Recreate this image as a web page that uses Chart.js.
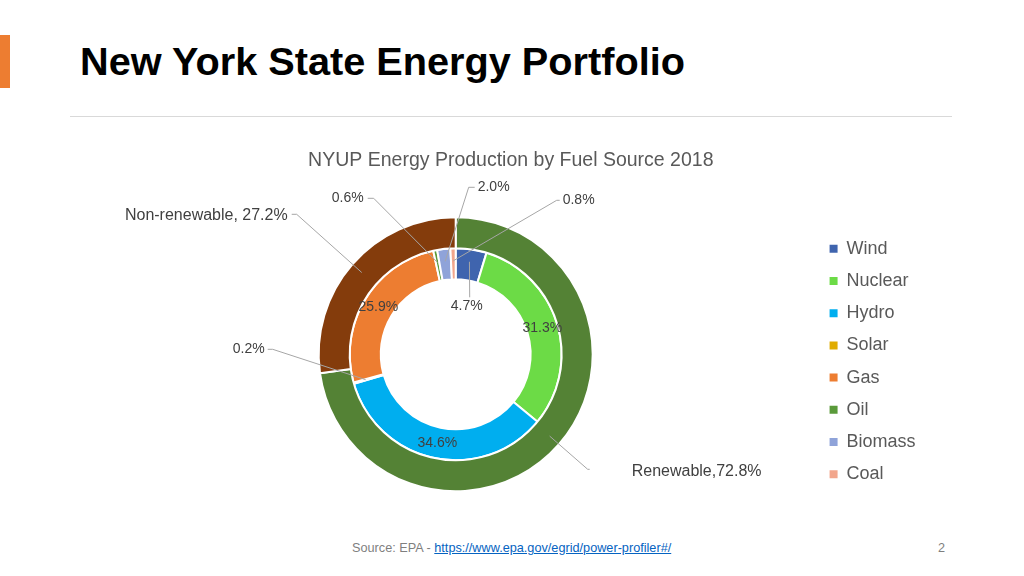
<!DOCTYPE html>
<html>
<head>
<meta charset="utf-8">
<title>New York State Energy Portfolio</title>
<script src="https://cdn.jsdelivr.net/npm/chart.js@4.4.0/dist/chart.umd.min.js"></script>
<style>
  body { margin:0; width:1024px; height:576px; background:#fff; position:relative; overflow:hidden;
         font-family:"Liberation Sans", Arial, sans-serif; }
  #bar { position:absolute; left:0; top:35px; width:10px; height:53px; background:#ED7D31; }
  #title { position:absolute; left:80px; top:42px; font-size:39.7px; line-height:1; font-weight:bold; color:#000; white-space:nowrap; }
  #rule { position:absolute; left:70px; top:116px; width:882px; height:1px; background:#D9D9D9; }
  #chartBox { position:absolute; left:96px; top:140px; width:840px; height:378px; }
  #source { position:absolute; left:352px; top:542px; font-size:12.7px; line-height:1; color:#7F7F7F; white-space:nowrap; }
  #source a { color:#0563C1; }
  #page { position:absolute; left:938px; top:542px; font-size:12.7px; line-height:1; color:#7F7F7F; }
</style>
</head>
<body>
<div id="bar"></div>
<div id="title">New York State Energy Portfolio</div>
<div id="rule"></div>
<div id="chartBox"><canvas id="myChart"></canvas></div>
<div id="source">Source: EPA - <a href="https://www.epa.gov/egrid/power-profiler#/">https://www.epa.gov/egrid/power-profiler#/</a></div>
<div id="page">2</div>

<script>
// inner ring
const fuels = ['Wind', 'Nuclear', 'Hydro', 'Solar', 'Gas', 'Oil', 'Biomass', 'Coal'];
const fuelShare = [4.7, 31.3, 34.6, 0.2, 25.9, 0.6, 2.0, 0.8];
// outer ring
const groups = ['Renewable', 'Non-renewable'];
const groupShare = [72.8, 27.2];

const fuelColors = ['#3F64AE', '#6CDB46', '#00AEEF', '#E0AC00', '#ED7D31', '#5A9A3A', '#8FA3D9', '#F2A68C'];
const groupColors = ['#548235', '#843C0C'];

// where each label sits, offsets from the doughnut centre (no dx = inside the slice)
const labelSpots = [
  {ds: 0, i: 0, sep: ',',  dx: 176,  dy: 117,  align: 'left',  size: 16, line: [[132, 115], [134, 115]]},
  {ds: 0, i: 1, sep: ', ', dx: -168, dy: -139, align: 'right', size: 16, line: [[-159, -140], [-164, -140]]},
  {ds: 1, i: 0, dx: 11,   dy: -48,  align: 'center', size: 14, line: [[14, -57]]},
  {ds: 1, i: 1, align: 'center', size: 14},
  {ds: 1, i: 2, align: 'center', size: 14},
  {ds: 1, i: 3, dx: -191, dy: -5,   align: 'right', size: 14, line: [[-183, -5], [-188, -5]]},
  {ds: 1, i: 4, align: 'center', size: 14},
  {ds: 1, i: 5, dx: -92,  dy: -156, align: 'right', size: 14, line: [[-82, -156], [-88, -156]]},
  {ds: 1, i: 6, dx: 22,   dy: -167, align: 'left',  size: 14, line: [[13, -167], [19, -167]]},
  {ds: 1, i: 7, dx: 107,  dy: -154, align: 'left',  size: 14, line: [[101, -154], [104, -154]]}
];

const FONT = '"Liberation Sans", Arial, sans-serif';
Chart.defaults.font.family = FONT;

const valueLabels = {
  id: 'valueLabels',
  afterDatasetsDraw(chart) {
    const ctx = chart.ctx;
    ctx.save();
    labelSpots.forEach(s => {
      const arc = chart.getDatasetMeta(s.ds).data[s.i];
      const p = arc.getProps(['x', 'y', 'startAngle', 'endAngle', 'innerRadius', 'outerRadius'], true);
      const mid = (p.startAngle + p.endAngle) / 2;
      const r = p.innerRadius + (p.outerRadius - p.innerRadius) * 0.6;
      const ax = p.x + Math.cos(mid) * r;
      const ay = p.y + Math.sin(mid) * r;

      let text = chart.data.datasets[s.ds].data[s.i].toFixed(1) + '%';
      if (s.ds === 0) text = groups[s.i] + s.sep + text;

      let tx, ty;
      if (s.dx === undefined) {
        const t = arc.tooltipPosition(true);
        tx = t.x; ty = t.y;
      } else {
        tx = p.x + s.dx; ty = p.y + s.dy;
      }

      if (s.line) {
        ctx.strokeStyle = '#A6A6A6';
        ctx.lineWidth = 1;
        ctx.beginPath();
        ctx.moveTo(ax, ay);
        s.line.forEach(pt => ctx.lineTo(p.x + pt[0], p.y + pt[1]));
        ctx.stroke();
      }
      ctx.font = s.size + 'px ' + FONT;
      ctx.fillStyle = '#404040';
      ctx.textAlign = s.align;
      ctx.textBaseline = 'middle';
      ctx.fillText(text, tx, ty);
    });
    ctx.restore();
  }
};

var myChart = document.getElementById('myChart').getContext('2d');
new Chart(myChart, {
  type: 'doughnut',
  data: {
    labels: fuels,
    datasets: [
      {label: 'Group', data: groupShare, backgroundColor: groupColors, borderColor: '#fff', borderWidth: 2},
      {label: 'Fuel', data: fuelShare, backgroundColor: fuelColors, borderColor: '#fff', borderWidth: 2}
    ]
  },
  options: {
    responsive: true,
    maintainAspectRatio: false,
    animation: false,
    radius: 137,
    cutout: '54.7%',
    layout: {padding: {left: 0, right: 10.4, top: 0, bottom: 0}},
    plugins: {
      title: {
        display: true,
        text: 'NYUP Energy Production by Fuel Source 2018',
        color: '#595959',
        font: {size: 19.5, weight: 'normal'},
        padding: {top: 8.6, bottom: 18.6}
      },
      legend: {
        position: 'right',
        // empty title only pushes the items down
        title: {display: true, text: '', font: {size: 5}, padding: {top: 59, bottom: 0}},
        labels: {
          boxWidth: 8,
          boxHeight: 8,
          padding: 14.2,
          color: '#595959',
          font: {size: 18},
          generateLabels(chart) {
            const colors = chart.data.datasets[1].backgroundColor;
            return chart.data.labels.map((t, i) => ({
              text: t, fillStyle: colors[i], strokeStyle: colors[i], lineWidth: 0,
              fontColor: '#595959', hidden: false, index: i
            }));
          }
        }
      },
      tooltip: {enabled: false}
    }
  },
  plugins: [valueLabels]
});
</script>
</body>
</html>
